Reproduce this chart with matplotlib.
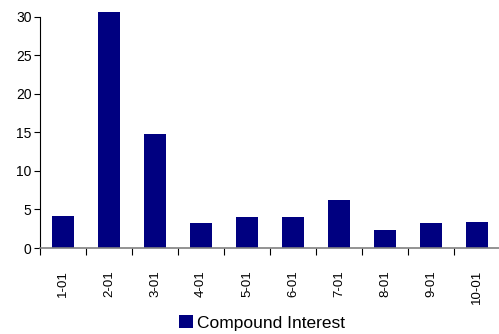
import matplotlib.pyplot as plt
import numpy as np

plt.rcParams["font.family"] = ["Liberation Sans", "DejaVu Sans"]

months = ["1-01", "2-01", "3-01", "4-01", "5-01", "6-01", "7-01", "8-01", "9-01", "10-01"]
compound_interest = [4.1, 30.7, 14.8, 3.2, 4.0, 4.0, 6.2, 2.3, 3.3, 3.4]

W, H = 499, 334
fig = plt.figure(figsize=(W / 100, H / 100), dpi=100)
ax = fig.add_axes([40 / W, 86 / H, 460 / W, 236.5 / H])

x = np.arange(len(months))
ax.bar(x, compound_interest, width=0.46, color="#000080", label="Compound Interest")

ax.set_xlim(-0.5, len(months) - 0.5)
ax.set_ylim(0, 30.7)
ax.set_yticks(np.arange(0, 31, 5))
ax.spines["left"].set_bounds(0, 30)
for s in ["top", "right"]:
    ax.spines[s].set_visible(False)
ax.spines["left"].set_color("#000000")
ax.spines["bottom"].set_color("#808080")
ax.spines["bottom"].set_linewidth(1.2)

# category ticks sit between bars, labels centred under bars
ax.set_xticks(np.arange(-0.5, len(months), 1.0))
ax.set_xticklabels([])
ax.set_xticks(x, minor=True)
ax.set_xticklabels(months, minor=True, rotation=90, fontsize=9.5)
ax.tick_params(axis="x", which="minor", length=0, pad=16)
ax.tick_params(axis="x", which="major", length=5, direction="out", color="#000000")
ax.tick_params(axis="y", length=4, direction="out", labelsize=10, pad=2)

fig.legend(loc="center", bbox_to_anchor=(262 / W, 11 / H), frameon=False,
           fontsize=12.5, handlelength=0.8, handleheight=0.8, handletextpad=0.2,
           borderpad=0, borderaxespad=0)

fig.savefig("out.png", dpi=100)
